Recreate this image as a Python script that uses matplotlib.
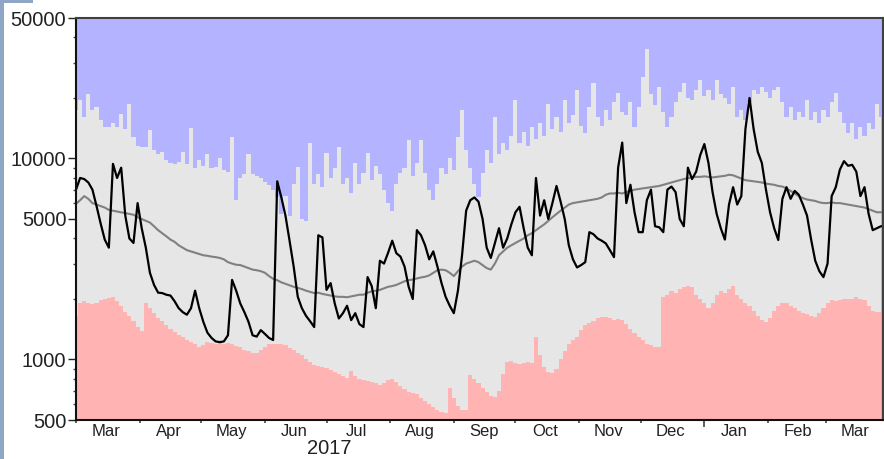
import numpy as np
import matplotlib
matplotlib.use("Agg")
import matplotlib.pyplot as plt
from matplotlib.patches import Rectangle
import datetime as dt

plt.rcParams['font.family'] = ['Liberation Sans', 'DejaVu Sans']

# ---- data: 2-day samples starting 2017-03-01 ----
start_date = "2017-03-01"
step_days = 2

daily_flow = [
    7000, 8000, 7900, 7600, 7000, 5800, 4750, 3950, 3600, 9400,
    8000, 9000, 5200, 4000, 3800, 6000, 4500, 3600, 2700, 2350,
    2150, 2140, 2100, 2080, 1950, 1800, 1720, 1670, 1800, 2200,
    1800, 1540, 1360, 1280, 1230, 1220, 1230, 1320, 2490, 2200,
    1900, 1720, 1540, 1320, 1300, 1400, 1340, 1280, 1250, 7700,
    6400, 5200, 3900, 2900, 2050, 1800, 1650, 1550, 1450, 4150,
    4050, 2220, 2400, 1900, 1600, 1700, 1850, 1570, 1700, 1500,
    1450, 2570, 2320, 1800, 3100, 3000, 3400, 3900, 3380, 3250,
    2900, 2300, 2000, 4400, 4150, 3700, 3150, 3450, 2900, 2400,
    2050, 1850, 1700, 2200, 3300, 5500, 6200, 6400, 6100, 5000,
    3600, 3200, 3800, 4500, 3600, 4000, 4700, 5400, 5750, 4500,
    3600, 3300, 8000, 5200, 6200, 5000, 6000, 7300, 6100, 5000,
    3700, 3150, 2870, 2950, 3050, 4300, 4200, 4000, 3900, 3780,
    3500, 3230, 9000, 12000, 6000, 7400, 5400, 4300, 4300, 6200,
    7000, 4600, 4550, 4300, 7000, 7250, 6800, 5000, 4600, 9000,
    7900, 8600, 10400, 11800, 9500, 6800, 5300, 4500, 3950, 5900,
    7200, 5900, 6500, 14000, 20000, 14000, 10800, 9500, 7000, 5400,
    4500, 3930, 6300, 7200, 6300, 6900, 6600, 5900, 5200, 3950,
    3100, 2750, 2570, 3000, 6500, 7200, 8800, 9700, 9200, 9300,
    8600, 6500, 7200, 5300, 4400, 4500, 4600,
]

mean_flow = [
    5950, 6200, 6500, 6300, 6000, 5900, 5800, 5700, 5550, 5500,
    5450, 5400, 5350, 5300, 5250, 5100, 5000, 4900, 4800, 4600,
    4400, 4250, 4100, 3950, 3850, 3700, 3600, 3500, 3450, 3400,
    3350, 3300, 3280, 3250, 3230, 3200, 3150, 3050, 3000, 2960,
    2950, 2900, 2850, 2800, 2780, 2750, 2700, 2600, 2520, 2480,
    2420, 2380, 2340, 2300, 2270, 2240, 2200, 2170, 2140, 2150,
    2120, 2100, 2080, 2060, 2050, 2050, 2040, 2060, 2080, 2100,
    2100, 2150, 2180, 2200, 2220, 2260, 2300, 2320, 2350, 2400,
    2450, 2480, 2500, 2530, 2560, 2580, 2620, 2700, 2780, 2800,
    2780, 2700, 2600, 2750, 2900, 3000, 3050, 3100, 3050, 2950,
    2850, 2800, 3000, 3300, 3450, 3600, 3700, 3800, 3900, 4000,
    4150, 4250, 4400, 4550, 4700, 4900, 5100, 5300, 5500, 5700,
    5900, 6000, 6050, 6100, 6150, 6200, 6250, 6300, 6400, 6600,
    6700, 6700, 6750, 6700, 6800, 6900, 7000, 7050, 7100, 7150,
    7200, 7250, 7300, 7400, 7500, 7600, 7700, 7800, 7900, 8000,
    8050, 8100, 8100, 8150, 8100, 8050, 8100, 8150, 8200, 8300,
    8250, 8100, 7950, 7800, 7750, 7700, 7650, 7600, 7500, 7450,
    7400, 7300, 7250, 7100, 6900, 6700, 6500, 6350, 6250, 6200,
    6150, 6050, 6000, 6000, 6050, 6000, 6000, 5950, 5900, 5850,
    5800, 5750, 5700, 5600, 5500, 5400, 5400,
]

min_flow = [
    1650, 1900, 1950, 1900, 1880, 1920, 1980, 2000, 2020, 2050,
    1950, 1850, 1720, 1650, 1550, 1450, 1380, 1920, 1800, 1700,
    1600, 1550, 1480, 1420, 1370, 1320, 1290, 1250, 1220, 1190,
    1160, 1180, 1220, 1210, 1200, 1210, 1200, 1210, 1200, 1170,
    1150, 1120, 1100, 1080, 1075, 1120, 1160, 1190, 1200, 1190,
    1200, 1180, 1140, 1110, 1080, 1050, 1010, 970, 940, 930,
    920, 910, 890, 870, 850, 830, 810, 880, 830, 800,
    790, 780, 770, 760, 750, 760, 790, 800, 770, 740,
    710, 690, 680, 670, 640, 620, 600, 580, 560, 545,
    540, 720, 640, 590, 560, 560, 840, 800, 760, 720,
    690, 660, 650, 700, 850, 970, 980, 960, 950, 960,
    970, 960, 1300, 1050, 920, 870, 860, 900, 1000, 1100,
    1200, 1250, 1300, 1400, 1480, 1520, 1560, 1600, 1620, 1630,
    1600, 1580, 1590, 1580, 1500, 1420, 1350, 1300, 1250, 1200,
    1180, 1150, 1160, 2050, 2100, 2200, 2150, 2250, 2300, 2330,
    2300, 2100, 2000, 1900, 1800, 1900, 2100, 2200, 2150, 2250,
    2330, 2100, 2000, 1900, 1850, 1750, 1650, 1580, 1530, 1600,
    1750, 1850, 1900, 1910, 1850, 1800, 1750, 1700, 1680, 1650,
    1630, 1700, 1800, 1900, 1980, 1950, 1970, 2000, 1990, 2010,
    2040, 2000, 1980, 1850, 1750, 1720, 1720,
]

max_flow = [
    17500, 19500, 16000, 21000, 17500, 18000, 15500, 14400, 14400, 15000,
    14400, 16600, 14000, 18700, 12800, 11500, 11400, 11400, 13800, 11000,
    10500, 10800, 9800, 9500, 9400, 9600, 10800, 9400, 14200, 9000,
    9800, 9200, 10500, 9000, 9100, 10000, 8800, 8600, 12800, 6200,
    8000, 8400, 10500, 8400, 8200, 8000, 7600, 7400, 7000, 6400,
    5300, 6500, 5200, 7500, 9100, 5000, 4900, 12000, 7500, 8400,
    7200, 10600, 8000, 9000, 11400, 7500, 8000, 6700, 9500, 7500,
    8500, 10600, 7800, 9200, 8400, 7000, 6000, 5500, 7500, 8500,
    9000, 12400, 8200, 9500, 12400, 8500, 7000, 6200, 7500, 9000,
    8400, 10000, 8800, 12800, 17400, 11000, 9000, 7500, 6400, 8500,
    11000, 9500, 16000, 10500, 12000, 11000, 13000, 19500, 12000, 13500,
    11500, 14400, 12500, 15000, 13000, 18700, 14000, 16000, 13500, 19500,
    15000, 16500, 22000, 14500, 13400, 18000, 23800, 16000, 14500, 17400,
    15500, 19000, 21200, 17000, 16500, 19000, 14400, 18000, 25400, 35000,
    21000, 18500, 22800, 17000, 14400, 16000, 19000, 21500, 23800, 20000,
    19500, 22000, 24600, 20500, 22000, 19500, 24600, 21000, 20000, 18700,
    22800, 16000, 17400, 15500, 19000, 22000, 21000, 22800, 21500, 20000,
    22000, 22800, 19000, 16000, 18000, 15500, 17000, 16000, 19500, 15500,
    17000, 15000, 17400, 16000, 19000, 21200, 17000, 15000, 13400, 15000,
    12500, 14400, 13000, 15000, 14000, 18700, 16000,
]

month_labels = ["Mar", "Apr", "May", "Jun", "Jul", "Aug", "Sep",
                "Oct", "Nov", "Dec", "Jan", "Feb", "Mar"]
year_label = "2017"
y_ticks = [500, 1000, 5000, 10000, 50000]

# ---- build ----
n = len(daily_flow)
dates = np.datetime64(start_date) + np.arange(n) * step_days
dates = dates.astype("datetime64[D]").astype(dt.datetime)

W, H = 884, 459
fig = plt.figure(figsize=(W / 100, H / 100), dpi=100)
fig.patch.set_facecolor("white")

# page decoration strips
fig.add_artist(Rectangle((0, 0), 4 / W, 1, transform=fig.transFigure,
                         facecolor="#8fa6c4", edgecolor="none"))
fig.add_artist(Rectangle((0, 1 - 3 / H), 33 / W, 3 / H, transform=fig.transFigure,
                         facecolor="#8fa6c4", edgecolor="none"))

ax = fig.add_axes([76 / W, 39 / H, 807 / W, 402 / H])
ax.set_facecolor("#b3b3ff")

floor = [100] * n
ax.fill_between(dates, floor, max_flow, step="mid", color="#e6e6e6", linewidth=0)
ax.fill_between(dates, floor, min_flow, step="mid", color="#ffb3b3", linewidth=0)
ax.plot(dates, mean_flow, color="#808080", lw=1.5)
ax.plot(dates, daily_flow, color="#000000", lw=1.6)

ax.set_yscale("log")
ax.set_ylim(500, 50000)
ax.set_xlim(dt.datetime(2017, 3, 1), dt.datetime(2018, 3, 29))

ax.set_yticks(y_ticks)
ax.set_yticklabels([str(v) for v in y_ticks])
ax.yaxis.set_minor_locator(matplotlib.ticker.LogLocator(base=10, subs=np.arange(2, 10)))
ax.yaxis.set_minor_formatter(matplotlib.ticker.NullFormatter())
ax.tick_params(axis="y", which="major", length=6, width=1, pad=1,
               labelsize=14.5, colors="#222222")
ax.tick_params(axis="y", which="minor", length=2, width=1, color="#444444")

# month boundary ticks (major, unlabeled) and mid-month labels (minor)
month_starts = [dt.datetime(2017 + (m + 2) // 12, (m + 2) % 12 + 1, 1) for m in range(13)]
mid_months = [d + dt.timedelta(days=14.5) for d in month_starts]
ax.set_xticks(month_starts)
ax.set_xticklabels([])
ax.set_xticks(mid_months, minor=True)
ax.set_xticklabels(month_labels, minor=True)
ax.tick_params(axis="x", which="major", length=2.5, width=1.2, color="#444444")
ax.tick_params(axis="x", which="minor", length=0, pad=3, labelsize=12,
               labelcolor="#222222")
for t, d in zip(ax.xaxis.get_major_ticks(), month_starts):
    if d.month == 1:
        t.tick1line.set_markersize(5)

for side in ["left", "bottom"]:
    ax.spines[side].set_color("#111111")
    ax.spines[side].set_linewidth(1.5)
for side in ["top", "right"]:
    ax.spines[side].set_color("#404040")
    ax.spines[side].set_linewidth(1.5)

fig.text(329 / W, 1 - 448 / H, year_label, ha="center", va="center",
         fontsize=14.5, color="#222222")

fig.savefig("out.png", dpi=100)
